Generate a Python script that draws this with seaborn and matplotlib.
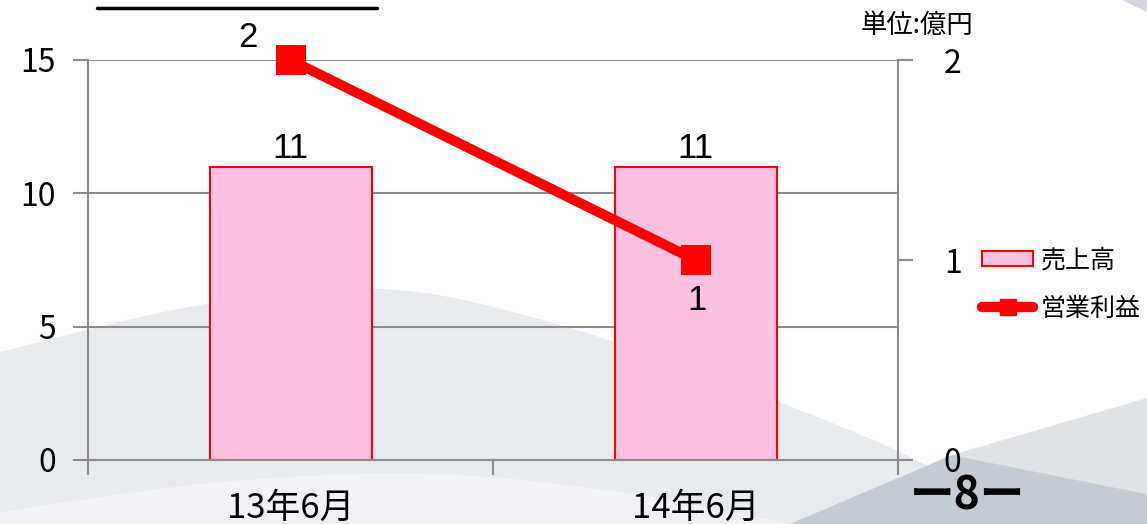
import numpy as np
import matplotlib
matplotlib.use("Agg")
import matplotlib.pyplot as plt
import seaborn as sns
from matplotlib.patches import Patch, Polygon
from matplotlib.lines import Line2D

# ---- data (億円) ----
periods = ["13年6月", "14年6月"]
sales = [11, 11]        # 売上高
op_profit = [2, 1]      # 営業利益
left_ticks = [0, 5, 10, 15]
right_ticks = [0, 1, 2]
series_names = ["売上高", "営業利益"]
unit_label = "単位:億円"
page_label = "ー8ー"

BAR_FACE = "#fcc0e3"
RED = "#ff0000"
AXIS_GREY = "#8c8c8c"

sns.set_style("white")
plt.rcParams["font.family"] = ["Noto Sans CJK JP", "DejaVu Sans"]
plt.rcParams["text.color"] = "black"

W, H = 1147, 524
fig = plt.figure(figsize=(W / 100, H / 100), dpi=100)
fig.patch.set_facecolor("white")


def to_fig(points):
    p = np.asarray(points, float)
    return np.column_stack([p[:, 0] / W, 1 - p[:, 1] / H])


def smooth(points, n=24):
    """Catmull-Rom spline through pixel-space points."""
    p = np.asarray(points, float)
    p = np.vstack([p[0], p, p[-1]])
    out = []
    t = np.linspace(0, 1, n, endpoint=False)[:, None]
    for i in range(1, len(p) - 2):
        p0, p1, p2, p3 = p[i - 1], p[i], p[i + 1], p[i + 2]
        seg = 0.5 * ((2 * p1) + (-p0 + p2) * t
                     + (2 * p0 - 5 * p1 + 4 * p2 - p3) * t ** 2
                     + (-p0 + 3 * p1 - 3 * p2 + p3) * t ** 3)
        out.append(seg)
    out.append(p[-2][None])
    return np.vstack(out)


def add_shape(points, color):
    fig.add_artist(Polygon(to_fig(points), closed=True, facecolor=color,
                           edgecolor="none", transform=fig.transFigure, zorder=-10))


# ---- slide background waves ----
wave = smooth([(0, 352), (200, 305), (385, 289), (560, 325), (760, 395),
               (900, 452), (1000, 505), (1060, 524)])
add_shape(np.vstack([wave, [(0, 524)]]), "#e7eaee")
band = smooth([(0, 512), (220, 482), (430, 474), (620, 492), (790, 524)])
add_shape(np.vstack([band, [(0, 524)]]), "#f0f2f5")
add_shape([(952, 455), (1147, 398), (1147, 494)], "#dfe3e8")
add_shape([(790, 524), (952, 455), (1147, 494), (1147, 524)], "#c3ccd5")
add_shape([(1122, 0), (1147, 0), (1147, 12)], "#d3d9df")

# ---- bars: 売上高 (left axis) ----
ax = fig.add_axes([88 / W, 64 / H, 810 / W, 400 / H])
ax.patch.set_alpha(0)
sns.barplot(x=periods, y=sales, ax=ax, color=BAR_FACE, edgecolor=RED,
            linewidth=1.5, width=0.4, saturation=1, errorbar=None)
ax.set_xlim(-0.5, len(periods) - 0.5)
ax.set_ylim(left_ticks[0], left_ticks[-1])
ax.set_yticks(left_ticks)
ax.yaxis.grid(True, color=AXIS_GREY, lw=1.5)
ax.set_axisbelow(True)
for side in ("top", "right"):
    ax.spines[side].set_visible(False)
for side in ("left", "bottom"):
    ax.spines[side].set_color(AXIS_GREY)
    ax.spines[side].set_linewidth(1.5)
ax.set_xlabel("")
ax.set_ylabel("")
ax.tick_params(axis="y", left=True, length=11, width=1.5, color=AXIS_GREY,
               labelcolor="black", labelsize=23, pad=12)
ax.set_xticks(range(len(periods)))
ax.set_xticklabels(periods)
ax.set_xticks(np.arange(len(periods) + 1) - 0.5, minor=True)
ax.tick_params(axis="x", which="major", bottom=True, length=0, labelsize=25,
               labelcolor="black", pad=22)
ax.tick_params(axis="x", which="minor", bottom=True, length=11, width=1.5,
               color=AXIS_GREY)
for c in ax.containers:
    ax.bar_label(c, labels=[str(v) for v in sales], padding=1, fontsize=25,
                 family="Liberation Sans", color="black")

# ---- line: 営業利益 (right axis) ----
ax2 = ax.twinx()
sns.pointplot(x=periods, y=op_profit, ax=ax2, color=RED, markers="s",
              markersize=21, linewidth=7.2, errorbar=None,
              markeredgecolor=RED, markeredgewidth=0)
for ln in ax2.lines:
    ln.set_clip_on(False)
ax2.set_xlim(-0.5, len(periods) - 0.5)
ax2.set_ylim(right_ticks[0], right_ticks[-1])
ax2.set_yticks(right_ticks)
ax2.grid(False)
ax2.set_ylabel("")
for side in ("top", "left", "bottom"):
    ax2.spines[side].set_visible(False)
ax2.spines["right"].set_visible(True)
ax2.spines["right"].set_color(AXIS_GREY)
ax2.spines["right"].set_linewidth(1.5)
ax2.tick_params(axis="y", right=True, length=11, width=1.5, color=AXIS_GREY,
                labelcolor="black", labelsize=23, pad=22)
ax2.annotate(str(op_profit[0]), (0, op_profit[0]), xytext=(-31, 16),
             textcoords="offset points", ha="center", va="center",
             fontsize=25, family="Liberation Sans", annotation_clip=False)
ax2.annotate(str(op_profit[1]), (1, op_profit[1]), xytext=(1, -29),
             textcoords="offset points", ha="center", va="center",
             fontsize=25, family="Liberation Sans", annotation_clip=False)

# ---- legend, unit, page number, heading rule ----
handles = [Patch(facecolor=BAR_FACE, edgecolor=RED, lw=1.5),
           Line2D([], [], color=RED, lw=7.5, marker="s", markersize=12,
                  solid_capstyle="round")]
fig.legend(handles, series_names, loc="upper left",
           bbox_to_anchor=(982 / W, 1 - 247 / H), frameon=False, fontsize=18,
           handlelength=2.05, handleheight=0.56, handletextpad=0.3,
           labelspacing=0.9, borderpad=0, borderaxespad=0)
fig.text(917 / W, 1 - 25 / H, unit_label, ha="center", va="center", fontsize=19)
fig.text(967 / W, 1 - 497 / H, page_label, ha="center", va="center",
         fontsize=32, fontweight="bold")
fig.add_artist(Line2D([97 / W, 377 / W], [1 - 8 / H, 1 - 8 / H], color="black",
                      lw=2.5, transform=fig.transFigure))

fig.savefig("out.png", dpi=100)
